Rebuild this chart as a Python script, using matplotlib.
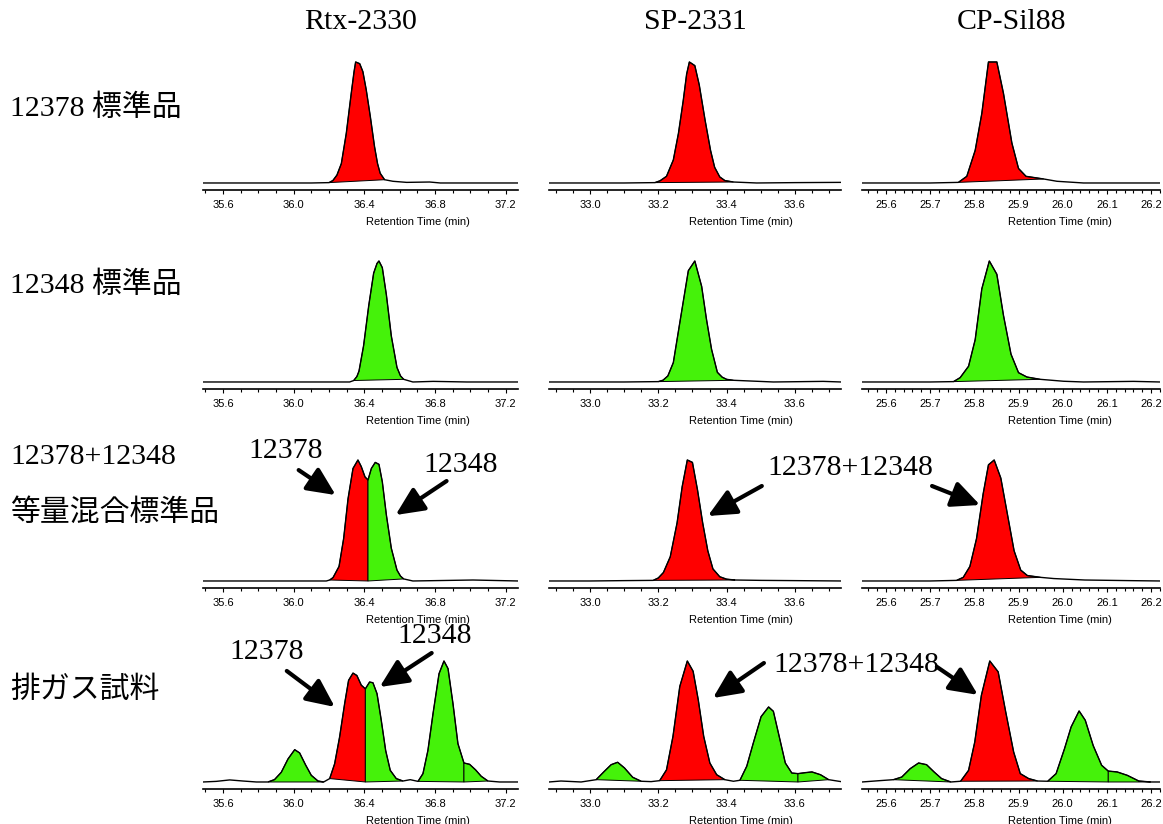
import matplotlib
matplotlib.use('Agg')
import matplotlib.pyplot as plt
from matplotlib.ticker import MultipleLocator, FormatStrFormatter
import numpy as np

plt.rcParams['font.family'] = ['Liberation Sans', 'DejaVu Sans']
serif = ['Liberation Serif', 'Noto Sans CJK JP']

RED = '#ff0000'
GREEN = '#45f20a'

columns = ['Rtx-2330', 'SP-2331', 'CP-Sil88']
row_labels = ['12378 標準品', '12348 標準品', '12378+12348', '等量混合標準品', '排ガス試料']

# x range and tick steps for each column
xlims = [(35.487, 37.27), (32.88, 33.735), (25.546, 26.22)]
major_step = [0.4, 0.2, 0.1]
minor_step = [0.1, 0.05, 0.02]

# --- traces (retention time, relative intensity) ---
# row 1: 12378 standard
r1_rtx_t = [35.487, 35.8, 36.1, 36.2, 36.222, 36.245, 36.27, 36.298, 36.326, 36.342, 36.351,
            36.374, 36.392, 36.411, 36.434, 36.458, 36.475, 36.49, 36.515, 36.562, 36.64,
            36.77, 36.83, 37.27]
r1_rtx_h = [0, 0, 0, 0.3, 2, 6.5, 16, 41, 74, 92, 100, 98.6, 92, 77, 55, 30, 16, 8, 2.7, 1.4,
            0.5, 0.8, 0, 0]
r1_sp_t = [32.88, 33.0, 33.1, 33.19, 33.205, 33.224, 33.244, 33.259, 33.273, 33.283, 33.291,
           33.307, 33.32, 33.337, 33.353, 33.365, 33.38, 33.395, 33.42, 33.488, 33.6, 33.735]
r1_sp_h = [0, 0, 0, 0.3, 1.8, 5.5, 19, 41, 68, 90, 100, 97, 81, 52, 27, 13, 5, 2, 0.8, 0, 0.3,
           0.5]
r1_cp_t = [25.546, 25.7, 25.764, 25.783, 25.802, 25.817, 25.832, 25.851, 25.866, 25.885, 25.9,
           25.917, 25.957, 25.987, 26.047, 26.22]
r1_cp_h = [0, 0, 0.5, 5.5, 27, 57.5, 100, 100, 74, 33, 12, 5.5, 3.3, 1.4, 0, 0]

# row 2: 12348 standard
r2_rtx_t = [35.487, 35.8, 36.1, 36.317, 36.34, 36.358, 36.37, 36.396, 36.425, 36.453, 36.472,
            36.483, 36.502, 36.525, 36.553, 36.585, 36.605, 36.623, 36.675, 36.79, 36.98, 37.27]
r2_rtx_h = [0, 0, 0, 0, 1.2, 4.5, 9, 30, 63, 90, 98, 100, 94.5, 72, 38, 12, 5, 2.2, 0, 0.5, 0,
            0]
r2_sp_t = [32.88, 33.0, 33.1, 33.2, 33.214, 33.228, 33.244, 33.263, 33.288, 33.307, 33.327,
           33.341, 33.356, 33.373, 33.387, 33.4, 33.42, 33.537, 33.683, 33.735]
r2_sp_h = [0, 0, 0, 0.3, 1.5, 5, 16, 49, 92, 100, 79, 52, 27, 8, 4, 2.2, 1.4, 0, 0.5, 0]
r2_cp_t = [25.546, 25.7, 25.753, 25.768, 25.787, 25.802, 25.817, 25.834, 25.851, 25.866, 25.883,
           25.9, 25.919, 25.949, 26.002, 26.047, 26.16, 26.22]
r2_cp_h = [0, 0, 0.3, 3.6, 13, 35, 77, 100, 89, 55, 23, 7.7, 4.1, 2.2, 0.6, 0, 0.5, 0]

# row 3: equal mixture
r3_rtx_t = [35.487, 35.8, 36.1, 36.185, 36.204, 36.223, 36.257, 36.283, 36.308, 36.336, 36.364,
            36.383, 36.404, 36.421, 36.44, 36.462, 36.483, 36.502, 36.525, 36.553, 36.585,
            36.605, 36.623, 36.675, 37.015, 37.27]
r3_rtx_h = [0, 0, 0, 0, 0.8, 2.8, 12, 35, 68, 93, 100, 94.5, 86, 83.5, 93, 98, 96.4, 82, 54.5,
            27, 9, 4, 1.7, 0, 0.8, 0]
r3_sp_t = [32.88, 33.0, 33.1, 33.185, 33.2, 33.215, 33.235, 33.255, 33.27, 33.285, 33.3, 33.315,
           33.33, 33.345, 33.36, 33.38, 33.4, 33.425, 33.5, 33.6, 33.735]
r3_sp_h = [0, 0, 0.3, 0.5, 2.5, 7, 20, 48, 78, 100, 98, 75, 48, 25, 10, 3.5, 1.5, 0.8, 0.5, 0.3, 0]
r3_cp_t = [25.546, 25.7, 25.76, 25.775, 25.79, 25.805, 25.82, 25.832, 25.845, 25.86, 25.875,
           25.89, 25.905, 25.92, 25.95, 25.98, 26.05, 26.15, 26.22]
r3_cp_h = [0, 0, 0.5, 3, 12, 35, 72, 96, 100, 85, 55, 25, 9, 4.5, 3, 2, 0.8, 0.3, 0]

# row 4: flue gas sample
r4_rtx_t = [35.487, 35.562, 35.638, 35.713, 35.789, 35.855, 35.892, 35.93, 35.968, 36.006,
            36.034, 36.068, 36.1, 36.138, 36.17, 36.204, 36.232, 36.26, 36.289, 36.311, 36.336,
            36.358, 36.383, 36.406, 36.43, 36.449, 36.472, 36.496, 36.521, 36.547, 36.581,
            36.619, 36.66, 36.704, 36.732, 36.76, 36.789, 36.823, 36.851, 36.874, 36.902,
            36.93, 36.964, 36.996, 37.03, 37.062, 37.1, 37.166, 37.27]
r4_rtx_h = [0, 0.5, 1.7, 0.8, 0, 0, 2, 8, 19, 26.7, 24, 14, 5.5, 0.8, 0, 2.8, 15, 37, 65, 84,
            90, 88, 80, 77, 82.6, 82, 73, 51, 26, 9.6, 2.8, 0.8, 1.9, 0.5, 6.9, 26, 56.5, 89.5,
            100, 93.7, 64.7, 31.7, 15.7, 14.6, 10, 4.7, 0.8, 0, 0]
r4_sp_t = [32.88, 32.915, 32.974, 33.018, 33.042, 33.062, 33.081, 33.101, 33.125, 33.15, 33.179,
           33.204, 33.224, 33.243, 33.263, 33.285, 33.302, 33.317, 33.333, 33.351, 33.371,
           33.395, 33.42, 33.439, 33.459, 33.478, 33.501, 33.523, 33.537, 33.554, 33.572,
           33.591, 33.609, 33.63, 33.65, 33.675, 33.699, 33.735]
r4_sp_h = [0, 0.8, 0, 1.9, 8.8, 14.3, 16.3, 11.6, 3.9, 0.6, 0.3, 1.1, 10, 37.7, 79, 100, 91.5,
           68, 37.7, 15.7, 6, 1.9, 0.6, 1.4, 13, 32, 54, 62, 58.4, 37.7, 15.7, 7.4, 6.9, 7.7,
           8.3, 6, 1.9, 0.3]
r4_cp_t = [25.546, 25.586, 25.617, 25.636, 25.655, 25.674, 25.692, 25.709, 25.726, 25.747,
           25.769, 25.787, 25.801, 25.816, 25.835, 25.854, 25.871, 25.889, 25.904, 25.923,
           25.943, 25.966, 25.985, 26.004, 26.019, 26.037, 26.051, 26.069, 26.088, 26.103,
           26.123, 26.146, 26.172, 26.199, 26.22]
r4_cp_h = [0, 1.1, 1.9, 4.1, 11, 15.7, 14.3, 8.3, 2.8, 0, 0.6, 9.6, 33, 71.6, 100, 91, 58,
           24.8, 6.9, 2.8, 0.8, 0.6, 6.9, 27.5, 45.5, 58.7, 51, 30, 13.8, 9, 8.3, 5.5, 0.8, 0, 0]

# integrated peaks: (start, end, colour)
r1_rtx_peaks = [(36.2, 36.515, RED)]
r1_sp_peaks = [(33.19, 33.42, RED)]
r1_cp_peaks = [(25.764, 25.957, RED)]
r2_rtx_peaks = [(36.34, 36.623, GREEN)]
r2_sp_peaks = [(33.2, 33.42, GREEN)]
r2_cp_peaks = [(25.753, 25.949, GREEN)]
r3_rtx_peaks = [(36.204, 36.421, RED), (36.421, 36.623, GREEN)]
r3_sp_peaks = [(33.185, 33.425, RED)]
r3_cp_peaks = [(25.76, 25.95, RED)]
r4_rtx_peaks = [(35.855, 36.17, GREEN), (36.204, 36.406, RED), (36.406, 36.619, GREEN),
                (36.704, 36.964, GREEN), (36.964, 37.1, GREEN)]
r4_sp_peaks = [(33.018, 33.15, GREEN), (33.204, 33.395, RED), (33.439, 33.609, GREEN),
               (33.609, 33.699, GREEN)]
r4_cp_peaks = [(25.617, 25.747, GREEN), (25.769, 25.943, RED), (25.966, 26.103, GREEN),
               (26.103, 26.199, GREEN)]

panels = [
    [(r1_rtx_t, r1_rtx_h, r1_rtx_peaks), (r1_sp_t, r1_sp_h, r1_sp_peaks), (r1_cp_t, r1_cp_h, r1_cp_peaks)],
    [(r2_rtx_t, r2_rtx_h, r2_rtx_peaks), (r2_sp_t, r2_sp_h, r2_sp_peaks), (r2_cp_t, r2_cp_h, r2_cp_peaks)],
    [(r3_rtx_t, r3_rtx_h, r3_rtx_peaks), (r3_sp_t, r3_sp_h, r3_sp_peaks), (r3_cp_t, r3_cp_h, r3_cp_peaks)],
    [(r4_rtx_t, r4_rtx_h, r4_rtx_peaks), (r4_sp_t, r4_sp_h, r4_sp_peaks), (r4_cp_t, r4_cp_h, r4_cp_peaks)],
]

# layout in pixels
W, H = 1163, 824
col_px = [(203, 518), (549, 841), (862, 1160)]
row_axis_y = [190, 389, 588, 789]
ylim = (-5.8, 108)
ax_h = (ylim[1] - ylim[0]) * 1.21

fig = plt.figure(figsize=(W / 100, H / 100), dpi=100)
axes = {}
for r in range(4):
    for c in range(3):
        x0, x1 = col_px[c]
        ax = fig.add_axes([x0 / W, 1 - row_axis_y[r] / H, (x1 - x0) / W, ax_h / H])
        t, h, peaks = panels[r][c]
        t = np.array(t)
        h = np.array(h)
        starts = [p[0] for p in peaks]
        ends = [p[1] for p in peaks]
        for ts, te, col in peaks:
            m = (t >= ts - 1e-9) & (t <= te + 1e-9)
            xs = list(t[m])
            ys = list(h[m])
            if te in starts:
                xs.append(te)
                ys.append(0)
            if ts in ends:
                xs.insert(0, ts)
                ys.insert(0, 0)
            ax.fill(xs, ys, facecolor=col, edgecolor='k', lw=0.7, zorder=2)
        ax.plot(t, h, color='k', lw=1.0, zorder=3)
        ax.set_xlim(*xlims[c])
        ax.set_ylim(*ylim)
        for s in ['left', 'right', 'top']:
            ax.spines[s].set_visible(False)
        ax.spines['bottom'].set_linewidth(1.2)
        ax.set_yticks([])
        ax.patch.set_alpha(0)
        ax.xaxis.set_major_locator(MultipleLocator(major_step[c]))
        ax.xaxis.set_minor_locator(MultipleLocator(minor_step[c]))
        ax.xaxis.set_major_formatter(FormatStrFormatter('%.1f'))
        ax.tick_params(axis='x', which='major', length=3, width=0.8, labelsize=8, pad=4)
        ax.tick_params(axis='x', which='minor', length=2.4, width=0.8)
        ax.annotate('Retention Time (min)', xy=(1, 0), xycoords='axes fraction',
                    xytext=(-48, -32), textcoords='offset pixels',
                    ha='right', va='center', fontsize=8)
        axes[(r, c)] = ax

# column titles
for c, name in enumerate(columns):
    x0, x1 = col_px[c]
    fig.text((x0 + x1) / 2 / W, 1 - 22 / H, name, ha='center', va='center',
             fontsize=21.5, family=serif)

# row labels
label_y = [108, 285, 457, 513, 690]
for lab, y in zip(row_labels, label_y):
    fig.text(10 / W, 1 - y / H, lab, ha='left', va='center', fontsize=21.5, family=serif)

arrow_kw = dict(arrowstyle='-|>,head_length=0.9,head_width=0.42', lw=3, color='k',
                mutation_scale=19, shrinkA=0, shrinkB=0)


def arrow(ax, tip, start_off, text=None, text_off=None):
    ax.annotate('', xy=tip, xycoords='data', xytext=start_off, textcoords='offset pixels',
                arrowprops=arrow_kw, annotation_clip=False)
    if text is not None:
        ax.annotate(text, xy=tip, xycoords='data', xytext=text_off, textcoords='offset pixels',
                    ha='center', va='center', fontsize=21.5, family=serif,
                    annotation_clip=False)


arrow(axes[(2, 0)], (36.238, 71), (-37, 25), '12378', (-50, 44))
arrow(axes[(2, 0)], (36.577, 54.5), (51, 34), '12348', (65, 50))
arrow(axes[(3, 0)], (36.233, 62), (-48, 36), '12378', (-68, 55))
arrow(axes[(3, 0)], (36.487, 78.5), (52, 34), '12348', (55, 51))
arrow(axes[(2, 1)], (33.345, 53.7), (54, 30), '12378+12348', (143, 48))
arrow(axes[(2, 2)], (25.813, 62.8), (-48, 19))
arrow(axes[(3, 1)], (33.36, 69.4), (51, 35), '12378+12348', (143, 33))
arrow(axes[(3, 2)], (25.808, 72), (-41, 28))

fig.savefig('out.png', dpi=100)
